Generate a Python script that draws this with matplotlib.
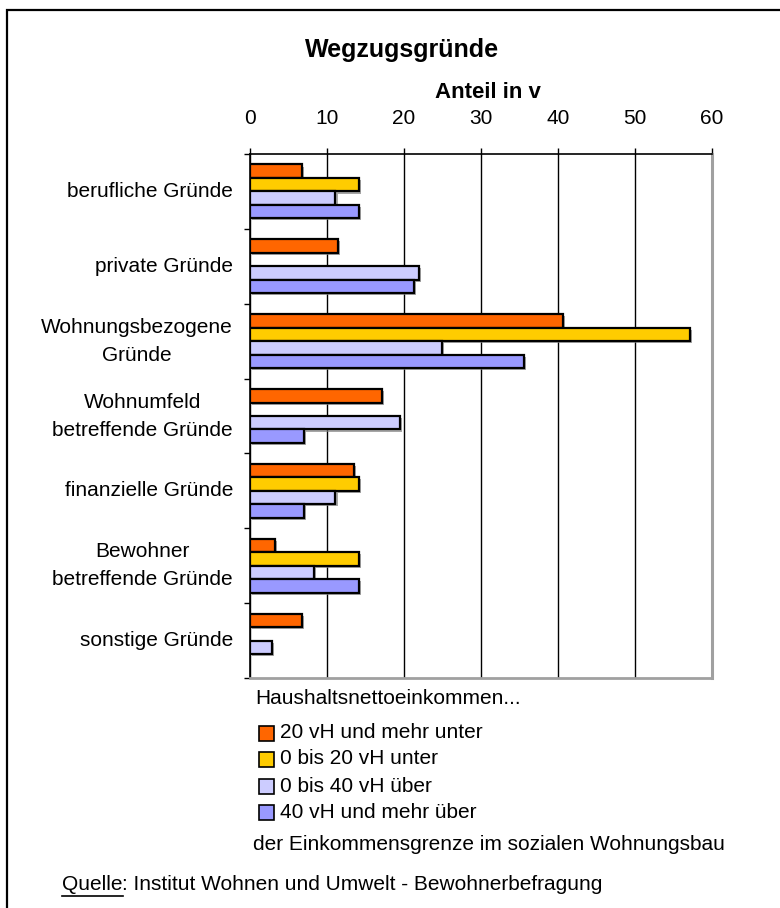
import matplotlib
matplotlib.use("Agg")
import matplotlib.pyplot as plt
import matplotlib.patheffects as pe
from matplotlib.patches import Rectangle
from matplotlib.lines import Line2D
import numpy as np

plt.rcParams['font.family'] = ['Liberation Sans', 'DejaVu Sans']

# -----------------------------
# Data
# -----------------------------
categories = [
    "berufliche Gründe",
    "private Gründe",
    "Wohnungsbezogene\nGründe",
    "Wohnumfeld\nbetreffende Gründe",
    "finanzielle Gründe",
    "Bewohner\nbetreffende Gründe",
    "sonstige Gründe",
]
series_names = [
    "20 vH und mehr unter",
    "0 bis 20 vH unter",
    "0 bis 40 vH über",
    "40 vH und mehr über",
]
vals_20_unter = [6.8, 11.4, 40.7, 17.1, 13.5, 3.3, 6.8]
vals_0_20_unter = [14.2, 0, 57.1, 0, 14.2, 14.2, 0]
vals_0_40_ueber = [11.1, 22.0, 24.9, 19.5, 11.1, 8.3, 2.8]
vals_40_ueber = [14.2, 21.3, 35.6, 7.0, 7.0, 14.2, 0]
colors = ["#FF6600", "#FFCC00", "#CCCCFF", "#9999FF"]
xticks = [0, 10, 20, 30, 40, 50, 60]

series = [vals_20_unter, vals_0_20_unter, vals_0_40_ueber, vals_40_ueber]

# -----------------------------
# Figure / axes in pixel terms
# -----------------------------
W, H = 780, 908
fig = plt.figure(figsize=(W / 100, H / 100), dpi=100)

def fx(px):
    return px / W

def fy(py):
    return 1 - py / H

ax = fig.add_axes([fx(250), fy(678), fx(712) - fx(250), fy(154) - fy(678)])

y = np.arange(len(categories))
bh = 0.18
shadow = [pe.SimplePatchShadow(offset=(1.5, -1.5), shadow_rgbFace="#808080", alpha=0.7), pe.Normal()]
for i, (vals, c) in enumerate(zip(series, colors)):
    bars = ax.barh(y + (i - 1.5) * bh, vals, height=bh, color=c,
                   edgecolor="black", linewidth=1.6, zorder=3)
    for b, v in zip(bars, vals):
        if v == 0:
            b.set_visible(False)
        else:
            b.set_path_effects(shadow)

ax.set_xlim(0, 60)
ax.set_ylim(len(categories) - 0.5, -0.5)
ax.set_xticks(xticks)
ax.xaxis.tick_top()
ax.tick_params(axis='x', length=4, width=1, pad=15, labelsize=15, colors='black')
ax.grid(axis='x', color='black', linewidth=1, zorder=0)

ax.set_yticks(np.arange(len(categories) + 1) - 0.5)
ax.set_yticklabels([])
ax.tick_params(axis='y', length=4, width=1)

ax.spines['top'].set_linewidth(1.2)
ax.spines['left'].set_linewidth(1.2)
ax.spines['right'].set_color('#a0a0a0')
ax.spines['right'].set_linewidth(2.2)
ax.spines['bottom'].set_color('#a0a0a0')
ax.spines['bottom'].set_linewidth(2)

for yi, lab in zip(y, categories):
    ax.text(-0.037, yi, lab, transform=ax.get_yaxis_transform(),
            ha='right', va='center', multialignment='center',
            fontsize=15, linespacing=1.6)

# -----------------------------
# Titles
# -----------------------------
fig.text(fx(402), fy(50), "Wegzugsgründe", ha='center', va='center',
         fontsize=18, fontweight='bold')
fig.text(fx(488), fy(93), "Anteil in v", ha='center', va='center',
         fontsize=16, fontweight='bold')

# -----------------------------
# Legend block
# -----------------------------
fs = 15
fig.text(fx(255), fy(699), "Haushaltsnettoeinkommen...", ha='left', va='center', fontsize=fs)
row_y = [733, 759, 786, 812]
for ry, name, c in zip(row_y, series_names, colors):
    fig.add_artist(Rectangle((fx(259), fy(ry + 8)), fx(15), 15 / H, facecolor=c,
                             edgecolor='black', linewidth=1.2, transform=fig.transFigure))
    fig.text(fx(280), fy(ry), name, ha='left', va='center', fontsize=fs)
fig.text(fx(253), fy(845), "der Einkommensgrenze im sozialen Wohnungsbau",
         ha='left', va='center', fontsize=fs)

# -----------------------------
# Source line with underlined "Quelle"
# -----------------------------
t1 = fig.text(fx(62), fy(885), "Quelle", ha='left', va='center', fontsize=fs)
renderer = fig.canvas.get_renderer()
bb = t1.get_window_extent(renderer)
fig.add_artist(Line2D([bb.x0 / W, bb.x1 / W], [(bb.y0 - 1) / H, (bb.y0 - 1) / H],
                      color='black', linewidth=1.2, transform=fig.transFigure))
fig.text(bb.x1 / W, fy(885), ": Institut Wohnen und Umwelt - Bewohnerbefragung",
         ha='left', va='center', fontsize=fs)

# outer frame (cut off at right and bottom like the source)
fig.add_artist(Rectangle((fx(7), -0.1), 2, fy(10) + 0.1, fill=False,
                         edgecolor='black', linewidth=1.6, transform=fig.transFigure))

fig.savefig("out.png", dpi=100)
